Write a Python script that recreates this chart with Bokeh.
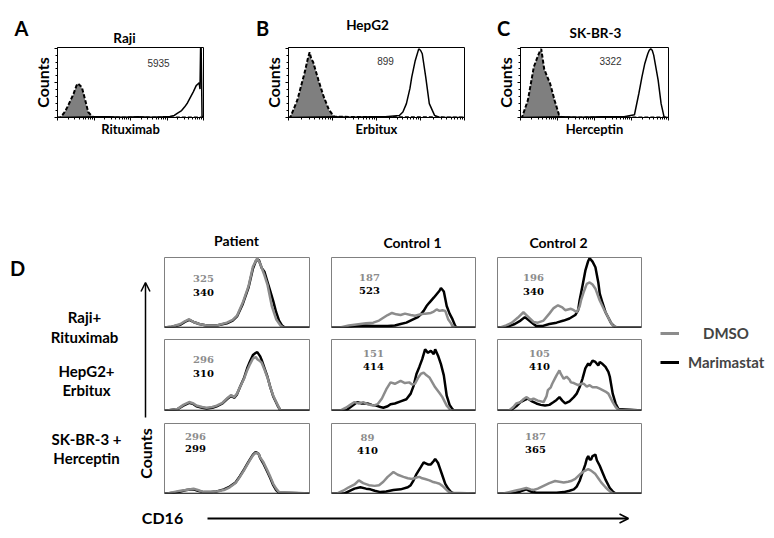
import math
from bokeh.plotting import figure
from bokeh.layouts import row, column
from bokeh.models import Range1d, Label, Span, Arrow, OpenHead, FixedTicker, Legend, LegendItem
from bokeh.embed import file_html
from bokeh.resources import INLINE

# ---------------- data (x: % of log fluorescence scale, y: % of max counts) ----------------
TOP_TITLES = ["Raji", "HepG2", "SK-BR-3"]
TOP_ANTIBODIES = ["Rituximab", "Erbitux", "Herceptin"]
TOP_LETTERS = ["A", "B", "C"]
TOP_MFI = [5935, 899, 3322]

A_ISO_X = [0, 2, 5, 7, 9, 11, 13, 14, 16, 17, 19, 21, 24, 27, 100]
A_ISO_Y = [0, 0, 8, 16, 25, 34, 46, 49, 45, 41, 25, 8, 1, 0, 0]
A_AB_X = [0, 27, 35, 45, 55, 65, 72, 77, 80, 82, 85, 87, 89, 91, 93, 95, 96, 97, 97.6, 98, 98.4, 99, 100]
A_AB_Y = [0, 1, 1, 0.5, 1, 0.5, 1, 1.5, 3, 6, 10, 15, 21, 29, 37, 46, 48, 50, 41, 100, 100, 2, 0]

B_ISO_X = [0, 1, 5, 9, 11, 12, 13, 14, 17, 20, 23, 26, 100]
B_ISO_Y = [0, 0, 25, 63, 85, 94, 84, 80, 54, 30, 11, 1, 0]
B_AB_X = [0, 26, 35, 48, 55, 63, 65, 67, 69, 70, 72, 74, 75, 76, 78, 80, 83, 86, 100]
B_AB_Y = [0, 1, 0.5, 1, 1, 3, 8, 20, 42, 58, 82, 99, 97, 92, 58, 20, 3, 0, 0]

C_ISO_X = [0, 1, 5, 9, 12, 13, 14, 16, 18, 20, 23, 26, 28, 100]
C_ISO_Y = [0, 0, 25, 73, 90, 95, 99, 70, 59, 49, 25, 4, 0, 0]
C_AB_X = [0, 28, 40, 55, 63, 70, 77, 80, 82, 84, 86, 87, 88, 89, 90, 93, 95, 97, 98, 100]
C_AB_Y = [0, 1, 0.5, 1, 1, 1, 4, 35, 58, 78, 92, 97, 99, 97, 90, 54, 20, 1, 0, 0]

ROW_LABELS = [["Raji+", "Rituximab"], ["HepG2+", "Erbitux"], ["SK-BR-3 +", "Herceptin"]]
COL_LABELS = ["Patient", "Control 1", "Control 2"]
DMSO_MFI = [[325, 187, 196], [296, 151, 105], [296, 89, 187]]
MARI_MFI = [[340, 523, 340], [310, 414, 410], [299, 410, 365]]

P1_D_X = [0, 5, 11, 14, 17, 20, 24, 29, 36, 43, 47, 50, 54, 58, 61, 64, 66, 69, 71, 74, 77, 80, 82, 100]
P1_D_Y = [0, 1, 5, 9, 12, 8, 5, 3, 3, 7, 11, 17, 36, 60, 88, 100, 92, 75, 62, 31, 12, 3, 0, 0]
P1_M_X = [0, 5, 11, 14, 17, 20, 24, 29, 36, 43, 47, 50, 54, 58, 61, 63, 65, 67, 69, 71, 73, 75, 77, 79, 81, 83, 100]
P1_M_Y = [0, 1, 4, 8, 11, 8, 5, 3, 3, 6, 10, 16, 34, 58, 85, 96, 98, 86, 80, 66, 52, 38, 22, 10, 3, 0, 0]

P2_D_X = [0, 2, 9, 13, 17, 20, 22, 26, 29, 33, 36, 40, 43, 46, 48, 50, 52, 55, 57, 59, 61, 63, 64, 66, 67, 69, 71, 73, 75, 78, 80, 100]
P2_D_Y = [0, 0, 2, 8, 12, 10, 7, 5, 4, 5, 7, 11, 17, 22, 19, 24, 33, 46, 57, 66, 74, 76, 73, 70, 68, 58, 47, 33, 21, 8, 0, 0]
P2_M_X = [0, 2, 9, 13, 17, 20, 22, 26, 29, 33, 36, 40, 43, 46, 48, 50, 52, 55, 57, 59, 61, 63, 64, 66, 67, 69, 71, 73, 75, 78, 80, 100]
P2_M_Y = [0, 0, 2, 7, 11, 9, 6, 4, 3, 4, 6, 10, 16, 21, 18, 23, 33, 47, 60, 70, 79, 82, 83, 77, 72, 60, 48, 33, 20, 7, 0, 0]

P3_D_X = [0, 2, 6, 11, 15, 20, 23, 27, 32, 36, 41, 45, 49, 52, 55, 58, 61, 63, 65, 66, 68, 71, 73, 75, 77, 79, 100]
P3_D_Y = [0, 0, 2, 4, 5, 7, 5, 2, 2, 3, 5, 9, 15, 24, 34, 45, 55, 59, 57, 52, 46, 33, 24, 14, 7, 2, 0]
P3_M_X = [0, 2, 6, 11, 15, 20, 23, 27, 32, 36, 41, 45, 49, 52, 55, 58, 61, 63, 65, 66, 68, 71, 73, 75, 77, 79, 100]
P3_M_Y = [0, 0, 1, 3, 5, 6, 4, 2, 2, 3, 6, 10, 16, 25, 35, 46, 56, 60, 57, 51, 44, 31, 22, 12, 5, 1, 0]

C11_D_X = [0, 6, 12, 16, 20, 24, 29, 33, 36, 39, 42, 45, 48, 51, 55, 58, 62, 65, 69, 71, 73, 75, 77, 79, 81, 83, 84, 86, 100]
C11_D_Y = [0, 0, 3, 4, 5, 6, 7, 10, 14, 18, 21, 19, 18, 20, 18, 17, 19, 20, 21, 23, 26, 24, 25, 24, 12, 6, 2, 0, 0]
C11_M_X = [0, 11, 16, 22, 30, 39, 44, 48, 52, 57, 60, 62, 64, 66, 68, 71, 73, 75, 76, 78, 80, 82, 84, 86, 87, 100]
C11_M_Y = [0, 0, 2, 3, 2, 2, 3, 5, 7, 12, 15, 19, 24, 31, 36, 43, 48, 53, 57, 52, 31, 20, 12, 2, 0, 0]

C12_D_X = [0, 6, 10, 13, 16, 19, 22, 25, 29, 32, 35, 38, 41, 44, 48, 51, 54, 56, 58, 60, 62, 64, 66, 68, 70, 72, 75, 77, 80, 83, 100]
C12_D_Y = [0, 0, 4, 8, 12, 10, 12, 9, 7, 9, 17, 30, 40, 38, 42, 39, 40, 37, 38, 46, 52, 54, 50, 47, 40, 33, 25, 19, 7, 0, 0]
C12_M_X = [0, 10, 14, 18, 21, 25, 28, 31, 34, 36, 39, 41, 44, 48, 52, 55, 57, 59, 61, 63, 65, 67, 69, 71, 72, 74, 76, 78, 80, 82, 84, 85, 100]
C12_M_Y = [0, 0, 6, 12, 10, 10, 8, 7, 5, 4, 6, 9, 10, 13, 16, 24, 35, 52, 62, 73, 87, 82, 85, 80, 87, 78, 66, 50, 21, 8, 2, 0, 0]

C13_D_X = [0, 4, 8, 12, 16, 19, 22, 26, 30, 33, 36, 39, 43, 46, 50, 53, 56, 59, 61, 63, 65, 68, 70, 72, 75, 77, 79, 81, 83, 100]
C13_D_Y = [0, 0, 4, 9, 13, 19, 15, 12, 11, 12, 17, 24, 31, 27, 24, 22, 21, 23, 24, 22, 21, 19, 17, 16, 14, 11, 7, 3, 1, 0]
C13_M_X = [0, 9, 13, 16, 20, 24, 27, 30, 34, 38, 43, 48, 53, 55, 57, 59, 62, 64, 65, 67, 69, 71, 72, 74, 75, 77, 79, 81, 83, 85, 100]
C13_M_Y = [0, 0, 4, 7, 9, 7, 6, 4, 2, 3, 5, 6, 9, 12, 19, 28, 38, 45, 44, 42, 42, 47, 50, 44, 38, 26, 14, 7, 2, 0, 0]

C21_D_X = [0, 2, 6, 10, 14, 18, 21, 25, 28, 32, 36, 39, 42, 45, 47, 49, 51, 53, 55, 57, 58, 60, 62, 64, 66, 68, 71, 74, 76, 78, 80, 83, 100]
C21_D_Y = [0, 0, 3, 7, 14, 22, 16, 8, 7, 10, 20, 28, 32, 29, 25, 26, 27, 25, 22, 30, 39, 52, 63, 65, 62, 56, 39, 26, 18, 10, 3, 0, 0]
C21_M_X = [0, 4, 8, 12, 16, 19, 22, 25, 27, 31, 36, 41, 46, 50, 54, 56, 57, 59, 61, 63, 64, 66, 68, 70, 71, 73, 75, 77, 79, 82, 100]
C21_M_Y = [0, 0, 2, 5, 10, 15, 10, 5, 2, 2, 5, 7, 10, 13, 18, 25, 39, 60, 82, 96, 100, 95, 87, 65, 49, 35, 22, 14, 6, 0, 0]

C22_D_X = [0, 8, 11, 13, 16, 18, 20, 23, 25, 28, 32, 34, 35, 37, 38, 40, 41, 43, 44, 46, 48, 50, 51, 53, 56, 58, 60, 62, 64, 66, 69, 71, 73, 75, 77, 80, 82, 84, 100]
C22_D_Y = [0, 0, 5, 10, 12, 16, 19, 15, 17, 14, 12, 20, 29, 33, 38, 46, 50, 57, 52, 45, 48, 44, 40, 39, 36, 38, 38, 34, 36, 33, 33, 31, 29, 27, 24, 12, 5, 1, 0]
C22_M_X = [0, 9, 13, 16, 19, 21, 24, 27, 30, 33, 36, 39, 41, 43, 45, 47, 50, 53, 55, 57, 59, 61, 63, 64, 66, 68, 70, 71, 73, 75, 77, 78, 80, 82, 84, 100]
C22_M_Y = [0, 0, 6, 12, 15, 17, 13, 10, 8, 7, 8, 12, 15, 19, 14, 10, 13, 19, 24, 33, 45, 60, 67, 64, 71, 69, 64, 69, 66, 62, 55, 48, 24, 10, 2, 0]

C23_D_X = [0, 4, 8, 12, 16, 20, 23, 25, 28, 32, 36, 40, 43, 46, 49, 51, 54, 56, 58, 60, 62, 63, 65, 68, 70, 72, 75, 77, 80, 100]
C23_D_Y = [0, 0, 2, 4, 6, 8, 6, 5, 7, 11, 15, 18, 17, 16, 17, 18, 21, 25, 29, 32, 34, 35, 33, 28, 22, 16, 9, 5, 0, 0]
C23_M_X = [0, 8, 12, 16, 20, 23, 27, 32, 37, 41, 46, 50, 53, 55, 57, 59, 61, 62, 63, 64, 65, 66, 68, 69, 71, 73, 75, 78, 80, 82, 100]
C23_M_Y = [0, 0, 1, 3, 6, 3, 1, 1, 1, 1, 2, 4, 6, 10, 18, 30, 42, 50, 54, 49, 49, 54, 56, 48, 40, 30, 20, 8, 3, 0, 0]

GRID_DMSO = [[(P1_D_X, P1_D_Y), (C11_D_X, C11_D_Y), (C21_D_X, C21_D_Y)],
             [(P2_D_X, P2_D_Y), (C12_D_X, C12_D_Y), (C22_D_X, C22_D_Y)],
             [(P3_D_X, P3_D_Y), (C13_D_X, C13_D_Y), (C23_D_X, C23_D_Y)]]
GRID_MARI = [[(P1_M_X, P1_M_Y), (C11_M_X, C11_M_Y), (C21_M_X, C21_M_Y)],
             [(P2_M_X, P2_M_Y), (C12_M_X, C12_M_Y), (C22_M_X, C22_M_Y)],
             [(P3_M_X, P3_M_Y), (C13_M_X, C13_M_Y), (C23_M_X, C23_M_Y)]]
TOP_DATA = [(A_ISO_X, A_ISO_Y, A_AB_X, A_AB_Y), (B_ISO_X, B_ISO_Y, B_AB_X, B_AB_Y), (C_ISO_X, C_ISO_Y, C_AB_X, C_AB_Y)]

# ---------------- styles / layout (page pixel geometry, origin at top-left) ----------------
FONT = "Lato"
NUMFONT = "DejaVu Serif"
GRAY = "#8c8c8c"
FILLGRAY = "#7f7f7f"


def put(p, text, px, py, fl, fb, size, color="black", style="bold", font=FONT):
    """Label inside a panel frame, positioned in screen px relative to the frame."""
    p.add_layout(Label(x=px - fl, y=fb - py, x_units="screen", y_units="screen", text=text,
                       text_font=font, text_font_size=f"{size}px", text_font_style=style,
                       text_color=color, text_align="center", text_baseline="middle"))


def canvas(x0, x1, y0, y1):
    p = figure(width=x1 - x0, height=y1 - y0, x_range=Range1d(x0, x1), y_range=Range1d(y1, y0),
               min_border=0, min_border_left=0, min_border_right=0, min_border_top=0, min_border_bottom=0,
               x_axis_location=None, y_axis_location=None, toolbar_location=None,
               output_backend="svg", outline_line_color=None, title=None)
    p.grid.visible = False
    return p


def lab(p, text, x, y, size, color="black", style="bold", font=FONT, angle=0.0):
    p.add_layout(Label(x=x, y=y, text=text, text_font=font, text_font_size=f"{size}px",
                       text_font_style=style, text_color=color, text_align="center",
                       text_baseline="middle", angle=angle))


# ---- top section ----
H = canvas(0, 774, 0, 45)
LETTER_POS = [(21, 27), (262, 27), (503, 27)]
TITLE_POS = [(124, 37), (367, 24), (595, 32)]
for i in range(3):
    lab(H, TOP_LETTERS[i], *LETTER_POS[i], 20)
    lab(H, TOP_TITLES[i], *TITLE_POS[i], 13.5)

TOP_GEOM = [(0, 204, 57, 146), (204, 465, 288, 176), (465, 774, 520, 148)]
MFI_POS = [(158, 62), (385, 60), (610, 60)]
FT, FH, FBB = 2, 70, 23
major_x = [0, 25, 50, 75, 100]
minor_x = sorted(set(25 * d + 25 * math.log10(k) for d in range(4) for k in range(2, 10)))

top_figs = []
for i in range(3):
    x0, x1, fl, fw = TOP_GEOM[i]
    bl = fl - x0
    br = (x1 - x0) - bl - fw
    p = figure(width=x1 - x0, height=FT + FH + FBB, x_range=Range1d(0, 100), y_range=Range1d(0, 101),
               min_border_left=bl, min_border_right=br, min_border_top=FT, min_border_bottom=FBB,
               toolbar_location=None, output_backend="svg", title=None)
    p.grid.visible = False
    p.outline_line_color = "black"
    p.outline_line_width = 1
    p.outline_line_alpha = 1
    for ax in (p.xaxis[0], p.yaxis[0]):
        ax.major_label_text_font_size = "1px"
        ax.major_label_text_color = None
        ax.major_label_standoff = 0
        ax.major_tick_in = 0
        ax.major_tick_out = 3
        ax.minor_tick_in = 0
        ax.minor_tick_out = 2
        ax.axis_line_color = "black"
        ax.major_tick_line_color = "black"
        ax.minor_tick_line_color = "black"
        ax.axis_label_text_font = FONT
        ax.axis_label_text_font_style = "bold"
        ax.axis_label_text_color = "black"
    p.xaxis.ticker = FixedTicker(ticks=major_x, minor_ticks=minor_x)
    p.yaxis.ticker = FixedTicker(ticks=[0, 50, 100], minor_ticks=list(range(0, 101, 10)))
    p.xaxis.axis_label = TOP_ANTIBODIES[i]
    p.xaxis.axis_label_text_font_size = "13px"
    p.xaxis.axis_label_standoff = 0
    p.yaxis.axis_label = "Counts"
    p.yaxis.axis_label_text_font_size = "16px"
    p.yaxis.axis_label_standoff = 3
    ix, iy, ax_, ay_ = TOP_DATA[i]
    p.varea(x=ix, y1=[0] * len(ix), y2=iy, fill_color=FILLGRAY, fill_alpha=1)
    p.line(ix, iy, line_color="black", line_width=2, line_dash="4 2")
    p.line(ax_, ay_, line_color="black", line_width=1.5)
    put(p, str(TOP_MFI[i]), MFI_POS[i][0], MFI_POS[i][1], fl, 45 + FT + FH, 10,
        color="#333333", style="normal", font="Liberation Sans")
    top_figs.append(p)

# ---- panel D ----
COL_GEOM = [(163, 320, 164, 145), (320, 486, 331, 144), (486, 652, 497, 144)]
ROW_GEOM = [(254, 3, 70, 6), (333, 6, 71, 6), (416, 7, 70, 7)]  # fig y0, top border, frame h, bottom border
COL_TITLE_POS = [(236, 240), (412, 242), (558, 242)]
NUM_POS = [  # (x centre, y grey, y black)
    [(203, 278, 292), (369, 277, 290), (533, 277, 291)],
    [(203, 359, 373), (373, 353, 366), (539, 353, 366)],
    [(195, 436, 448), (367, 437, 450), (535, 436, 449)]]

HD = canvas(163, 652, 140, 254)
for c in range(3):
    lab(HD, COL_LABELS[c], *COL_TITLE_POS[c], 14)

cols = []
for c in range(3):
    x0, x1, fl, fw = COL_GEOM[c]
    bl = fl - x0
    br = (x1 - x0) - bl - fw
    figs = []
    for r in range(3):
        y0, bt, fh, bb = ROW_GEOM[r]
        p = figure(width=x1 - x0, height=bt + fh + bb, x_range=Range1d(0, 100), y_range=Range1d(0, 101),
                   min_border_left=bl, min_border_right=br, min_border_top=bt, min_border_bottom=bb,
                   x_axis_location=None, y_axis_location=None, toolbar_location=None,
                   output_backend="svg", title=None)
        p.grid.visible = False
        p.outline_line_color = "#808080"
        p.outline_line_width = 1
        p.outline_line_alpha = 1
        p.add_layout(Span(location=0, dimension="width", line_color="black", line_width=1.5))
        mx, my = GRID_MARI[r][c]
        dx, dy = GRID_DMSO[r][c]
        p.line(mx, my, line_color="black", line_width=2.5)
        p.line(dx, dy, line_color=GRAY, line_width=2.5)
        fb = y0 + bt + fh
        nx, ng, nk = NUM_POS[r][c]
        put(p, str(DMSO_MFI[r][c]), nx, ng, fl, fb, 10, color=GRAY, font=NUMFONT)
        put(p, str(MARI_MFI[r][c]), nx, nk, fl, fb, 10, color="black", font=NUMFONT)
        figs.append(p)
    cols.append(column(*figs, spacing=0))

L = canvas(0, 163, 140, 500)
lab(L, "D", 17, 267, 20)
ROW_LABEL_POS = [(84, 316, 336), (86, 370, 389), (86, 438, 457)]
for r in range(3):
    x, y1, y2 = ROW_LABEL_POS[r]
    lab(L, ROW_LABELS[r][0], x, y1, 15)
    lab(L, ROW_LABELS[r][1], x, y2, 15)
lab(L, "Counts", 145, 453, 16, angle=math.pi / 2)
L.add_layout(Arrow(end=OpenHead(size=9, line_width=1.5, line_color="black"), x_start=145, y_start=417,
                   x_end=145, y_end=282, line_width=1.5, line_color="black"))

G = canvas(652, 774, 140, 500)
r_d = G.line(x=[float("nan")], y=[float("nan")], line_color=GRAY, line_width=3)
r_m = G.line(x=[float("nan")], y=[float("nan")], line_color="black", line_width=3)
for item, rend, standoff, mid_y in (("DMSO", r_d, 24, 334), ("Marimastat", r_m, 9, 363)):
    lg = Legend(items=[LegendItem(label=item, renderers=[rend])], location=(8, 500 - mid_y - 8),
                glyph_width=19, glyph_height=16, label_height=16, label_standoff=standoff,
                padding=0, margin=0, spacing=0, border_line_color=None, background_fill_alpha=0,
                label_text_font=FONT, label_text_font_style="bold", label_text_font_size="15px")
    G.add_layout(lg)

S = canvas(0, 774, 500, 536)
lab(S, "CD16", 162, 517, 16)
S.add_layout(Arrow(end=OpenHead(size=9, line_width=1.5, line_color="black"), x_start=207, y_start=518,
                   x_end=628, y_end=518, line_width=2, line_color="black"))

grid_block = column(HD, row(*cols, spacing=0), spacing=0)
layout = column(H, row(*top_figs, spacing=0), row(L, grid_block, G, spacing=0), S, spacing=0)

open("out.html", "w").write(file_html(layout, INLINE))
